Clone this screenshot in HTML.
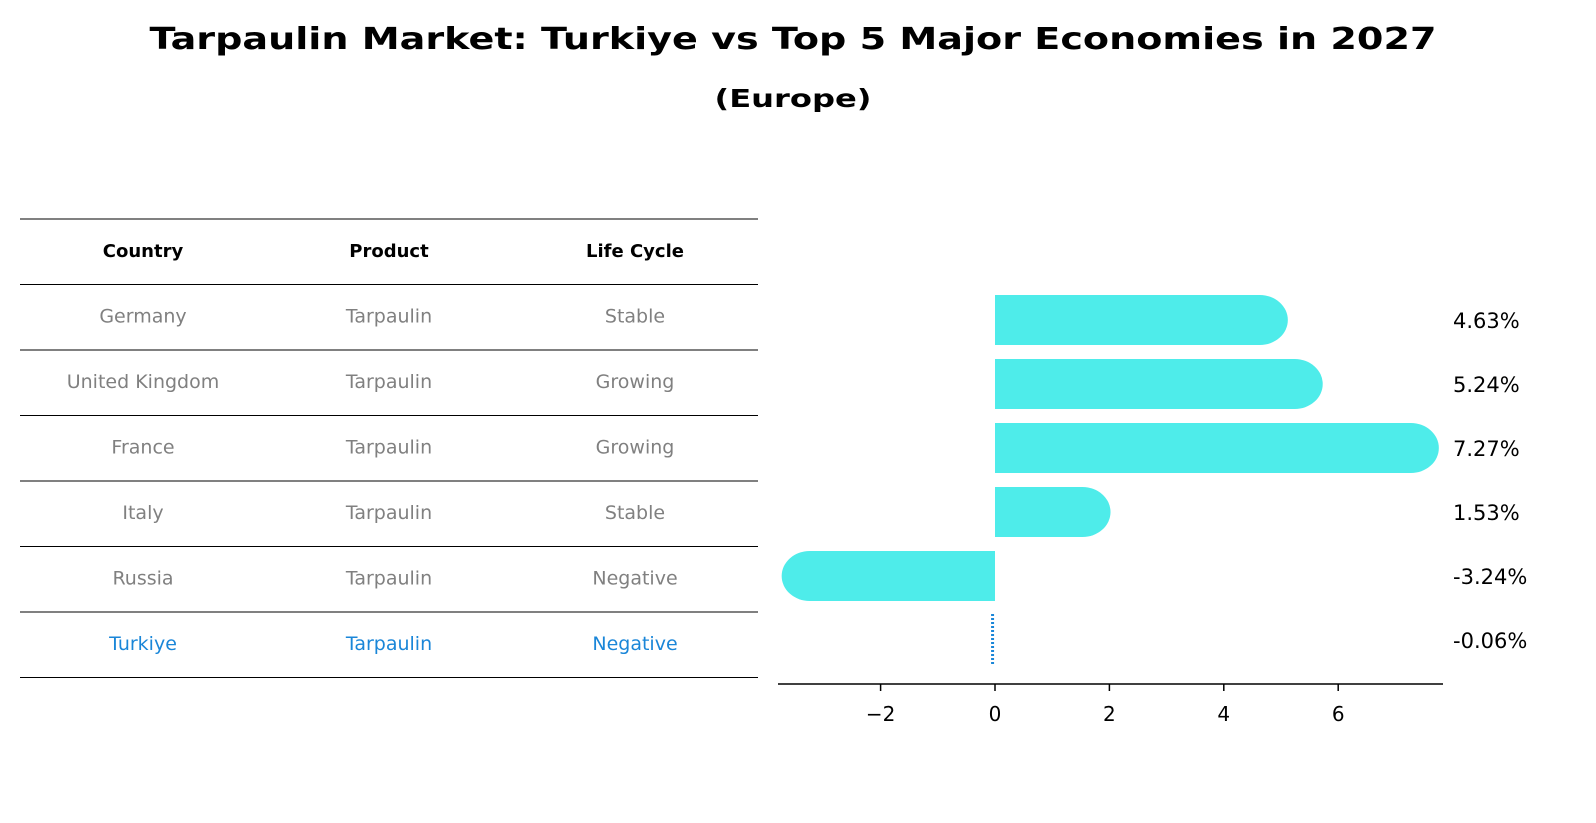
<!DOCTYPE html>
<html><head><meta charset="utf-8"><style>
html,body{margin:0;padding:0;background:#fff;overflow:hidden;width:1596px;height:823px;}
svg{display:block;}
svg text{font-family:"DejaVu Sans","Liberation Sans",sans-serif;}
</style></head><body>
<svg width="1596" height="823" viewBox="0 0 1596 823" xmlns="http://www.w3.org/2000/svg">
<text x="793" y="49" text-anchor="middle" font-size="30" font-weight="bold" textLength="1287" lengthAdjust="spacingAndGlyphs">Tarpaulin Market: Turkiye vs Top 5 Major Economies in 2027</text>
<text x="793" y="107" text-anchor="middle" font-size="25" font-weight="bold" textLength="157" lengthAdjust="spacingAndGlyphs">(Europe)</text>
<g id="table"></g>
<g id="plot"></g>
</svg>
<script>
const countries=["Germany","United Kingdom","France","Italy","Russia","Turkiye"];
const products=["Tarpaulin","Tarpaulin","Tarpaulin","Tarpaulin","Tarpaulin","Tarpaulin"];
const lifecycles=["Stable","Growing","Growing","Stable","Negative","Negative"];
const values=[4.63,5.24,7.27,1.53,-3.24,-0.06];
const valueLabels=["4.63%","5.24%","7.27%","1.53%","-3.24%","-0.06%"];
const xTicks=[-2,0,2,4,6];
const NS="http://www.w3.org/2000/svg";
function mk(tag,attrs,parent){const e=document.createElementNS(NS,tag);for(const k in attrs)e.setAttribute(k,attrs[k]);parent.appendChild(e);return e;}
const tbl=document.getElementById('table');
const colX=[143,389,635];
const rowY=i=>219+65.5*i;
for(let i=0;i<=7;i++){
  const l=mk('line',{x1:20,x2:758,y1:rowY(i),y2:rowY(i),stroke:'#000','stroke-width':1},tbl);
  
  
}
["Country","Product","Life Cycle"].forEach((h,j)=>{
  const t=mk('text',{x:colX[j],y:rowY(0)+38,'text-anchor':'middle','font-size':18,'font-weight':'bold'},tbl);
  t.textContent=h;
  
  
});
countries.forEach((c,i)=>{
  const col=c==="Turkiye"?"#1a86d8":"#808080";
  [c,products[i],lifecycles[i]].forEach((v,j)=>{
    const t=mk('text',{x:colX[j],y:rowY(i+1)+38,'text-anchor':'middle','font-size':19,fill:col},tbl);
    t.textContent=v;
    
    
  });
});
const plot=document.getElementById('plot');
const x0=995,ppu=57.2;
const X=v=>x0+v*ppu;
const Y=i=>320+64*i;
const bh=50,cap=28;
values.forEach((v,i)=>{
  const cy=Y(i);
  if(countries[i]==="Turkiye"){
    const l=mk('line',{x1:X(v)+1,x2:X(v)+1,y1:cy-26,y2:cy+26,stroke:'#1a86d8','stroke-width':3,'stroke-dasharray':'2,2'},plot);
    
    
  } else {
    const xe=X(v);
    const r=mk('rect',{x:Math.min(x0,xe),y:cy-bh/2,width:Math.abs(xe-x0),height:bh,fill:'#4eecea'},plot);
    
    
    const e=mk('ellipse',{cx:xe,cy:cy,rx:cap,ry:bh/2,fill:'#4eecea'},plot);
    
    
  }
  const t=mk('text',{x:1453,y:cy+8,'font-size':21},plot);
  t.textContent=valueLabels[i];
  
  
});
const ax=mk('line',{x1:778,x2:1443,y1:684,y2:684,stroke:'#000','stroke-width':1.5},plot);


xTicks.forEach(v=>{
  const tk=mk('line',{x1:X(v),x2:X(v),y1:684,y2:691,stroke:'#000','stroke-width':1.5},plot);
  
  
  const t=mk('text',{x:X(v),y:721,'text-anchor':'middle','font-size':20},plot);
  t.textContent=v<0?'\u2212'+Math.abs(v):String(v);
  
  
});
</script>
</body></html>
